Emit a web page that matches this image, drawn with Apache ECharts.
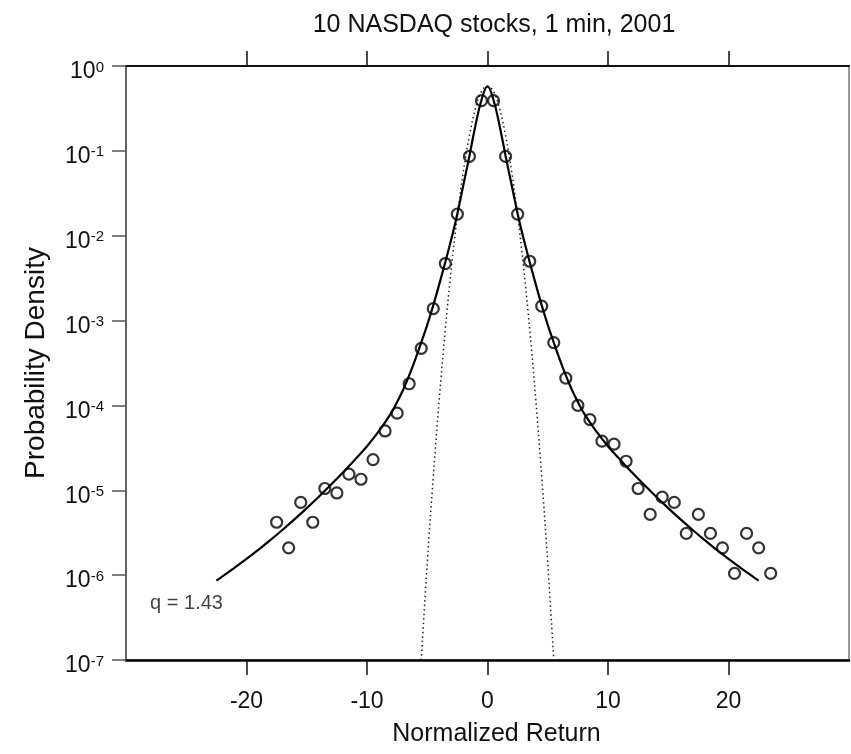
<!DOCTYPE html>
<html>
<head>
<meta charset="utf-8">
<title>10 NASDAQ stocks, 1 min, 2001</title>
<script src="https://cdn.jsdelivr.net/npm/echarts@6/dist/echarts.min.js"></script>
<style>
  html, body { margin: 0; padding: 0; background: #fff; }
  #chart { width: 851px; height: 754px; }
</style>
</head>
<body>
<div id="chart"></div>
<script>
// tick positions on the return axis
const xTicks = [-20, -10, 0, 10, 20];

// observed histogram (bin centres and density)
const obsX = [
  -17.5, -16.5, -15.5, -14.5, -13.5, -12.5, -11.5, -10.5, -9.5, -8.5, -7.5, -6.5,
  -5.5, -4.5, -3.5, -2.5, -1.5, -0.5,
  0.5, 1.5, 2.5, 3.5, 4.5, 5.5, 6.5, 7.5, 8.5, 9.5, 10.5, 11.5, 12.5, 13.5,
  14.5, 15.5, 16.5, 17.5, 18.5, 19.5, 20.5, 21.5, 22.5, 23.5
];
const obsY = [
  4.2e-6, 2.1e-6, 7.2e-6, 4.2e-6, 1.05e-5, 9.3e-6, 1.55e-5, 1.35e-5, 2.3e-5, 5.0e-5, 8.1e-5, 1.8e-4,
  4.7e-4, 1.38e-3, 4.7e-3, 0.018, 0.086, 0.39,
  0.39, 0.086, 0.018, 5.0e-3, 1.48e-3, 5.5e-4, 2.1e-4, 1.0e-4, 6.8e-5, 3.8e-5, 3.5e-5, 2.2e-5, 1.05e-5, 5.2e-6,
  8.3e-6, 7.2e-6, 3.1e-6, 5.2e-6, 3.1e-6, 2.1e-6, 1.05e-6, 3.1e-6, 2.1e-6, 1.05e-6
];

// q-Gaussian fit (solid line)
const fitX = [
  -22.5, -22, -21, -20, -19, -18, -17, -16, -15, -14, -13, -12, -11, -10, -9, -8,
  -7.5, -7, -6.5, -6, -5.5, -5, -4.5, -4, -3.5, -3, -2.5, -2, -1.5, -1, -0.5, 0,
  0.5, 1, 1.5, 2, 2.5, 3, 3.5, 4, 4.5, 5, 5.5, 6, 6.5, 7, 7.5,
  8, 9, 10, 11, 12, 13, 14, 15, 16, 17, 18, 19, 20, 21, 22, 22.5
];
const fitY = [
  8.61e-7, 9.66e-7, 1.22e-6, 1.55e-6, 2.0e-6, 2.6e-6, 3.43e-6, 4.57e-6, 6.17e-6, 8.41e-6, 1.16e-5, 1.62e-5, 2.29e-5, 3.31e-5, 5.01e-5, 8.13e-5,
  1.10e-4, 1.53e-4, 2.26e-4, 3.47e-4, 5.5e-4, 8.91e-4, 1.51e-3, 2.69e-3, 4.9e-3, 9.12e-3, 0.0182, 0.0398, 0.0871, 0.1995, 0.398, 0.575,
  0.398, 0.1995, 0.0871, 0.0398, 0.0182, 9.12e-3, 4.9e-3, 2.69e-3, 1.51e-3, 8.91e-4, 5.5e-4, 3.47e-4, 2.26e-4, 1.53e-4, 1.10e-4,
  8.13e-5, 5.01e-5, 3.31e-5, 2.29e-5, 1.62e-5, 1.16e-5, 8.41e-6, 6.17e-6, 4.57e-6, 3.43e-6, 2.6e-6, 2.0e-6, 1.55e-6, 1.22e-6, 9.66e-7, 8.61e-7
];

// Gaussian (dotted line)
const gaussX = [
  -5.5, -5, -4.5, -4, -3.5, -3, -2.5, -2, -1.5, -1, -0.5, 0,
  0.5, 1, 1.5, 2, 2.5, 3, 3.5, 4, 4.5, 5, 5.5
];
const gaussY = [
  1.0e-7, 1.38e-6, 1.45e-5, 1.20e-4, 7.94e-4, 4.17e-3, 0.0174, 0.0575, 0.151, 0.316, 0.501, 0.575,
  0.501, 0.316, 0.151, 0.0575, 0.0174, 4.17e-3, 7.94e-4, 1.20e-4, 1.45e-5, 1.38e-6, 1.0e-7
];

// annotation
const qText = "q = 1.43";
const qPos = [-28, 4.6e-7];

const FONT = "Liberation Sans, Arial, Helvetica, sans-serif";

const pairs = (xs, ys) => xs.map((x, i) => [x, ys[i]]);

const myChart = echarts.init(document.getElementById("chart"), null, { renderer: "canvas" });

const option = {
  backgroundColor: "#fff",
  animation: false,
  title: {
    text: "10 NASDAQ stocks, 1 min, 2001",
    left: 489,
    textAlign: "center",
    top: 8,
    textStyle: { fontFamily: FONT, fontSize: 25, fontWeight: "normal", color: "#111" },
  },
  grid: {
    left: 126,
    top: 66,
    right: 2,
    bottom: 94,
    show: true,
    borderColor: "#555",
    borderWidth: 1.2,
  },
  xAxis: [
    {
      type: "value",
      min: -30,
      max: 30,
      interval: 10,
      position: "bottom",
      name: "Normalized Return",
      nameLocation: "middle",
      nameGap: 62,
      nameTextStyle: { fontFamily: FONT, fontSize: 25, color: "#111", padding: [0, 0, 0, 18] },
      axisLine: { onZero: false, lineStyle: { color: "#000", width: 2.5 } },
      axisTick: { inside: false, length: 15, customValues: xTicks, lineStyle: { color: "#111", width: 1.5 } },
      axisLabel: {
        customValues: xTicks,
        margin: 30,
        fontFamily: FONT,
        fontSize: 23,
        color: "#111",
      },
      splitLine: { show: false },
    },
    {
      type: "value",
      min: -30,
      max: 30,
      interval: 10,
      position: "top",
      axisLine: { onZero: false, lineStyle: { color: "#111", width: 2 } },
      axisTick: { inside: false, length: 15, customValues: xTicks, lineStyle: { color: "#111", width: 1.5 } },
      axisLabel: { show: false },
      splitLine: { show: false },
    },
  ],
  yAxis: {
    type: "log",
    logBase: 10,
    min: 1e-7,
    max: 1,
    splitNumber: 7,
    position: "left",
    name: "Probability Density",
    nameLocation: "middle",
    nameGap: 76,
    nameTextStyle: { fontFamily: FONT, fontSize: 28, color: "#111" },
    axisLine: { show: true, onZero: false, lineStyle: { color: "#555", width: 1.5 } },
    axisTick: { inside: false, length: 14, lineStyle: { color: "#555", width: 1.5 } },
    axisLabel: {
      margin: 22,
      padding: [12, 0, 0, 0],
      formatter: (v) => "{b|10}{s|" + Math.round(Math.log10(v)) + "}",
      rich: {
        b: { fontFamily: FONT, fontSize: 23, color: "#111", lineHeight: 24 },
        s: { fontFamily: FONT, fontSize: 15, color: "#111", verticalAlign: "top", lineHeight: 24, padding: [0, 0, 8, 0] },
      },
    },
    splitLine: { show: false },
  },
  series: [
    {
      name: "Gaussian",
      type: "line",
      data: pairs(gaussX, gaussY),
      smooth: 0.4,
      showSymbol: false,
      lineStyle: { color: "#222", width: 1.5, type: [1.5, 3] },
      z: 2,
    },
    {
      name: "q-Gaussian",
      type: "line",
      data: pairs(fitX, fitY),
      smooth: 0.4,
      showSymbol: false,
      lineStyle: { color: "#000", width: 2.2 },
      z: 3,
    },
    {
      name: "Data",
      type: "scatter",
      data: pairs(obsX, obsY),
      symbol: "circle",
      symbolSize: 11,
      itemStyle: { color: "rgba(0,0,0,0)", borderColor: "#000", borderWidth: 2.2 },
      z: 4,
    },
    {
      name: "q",
      type: "scatter",
      data: [qPos],
      symbolSize: 0,
      label: {
        show: true,
        position: "right",
        distance: 0,
        formatter: qText,
        fontFamily: FONT,
        fontSize: 20,
        color: "#111",
      },
      z: 5,
    },
  ],
};

myChart.setOption(option);
window.addEventListener("resize", myChart.resize);
</script>
</body>
</html>
